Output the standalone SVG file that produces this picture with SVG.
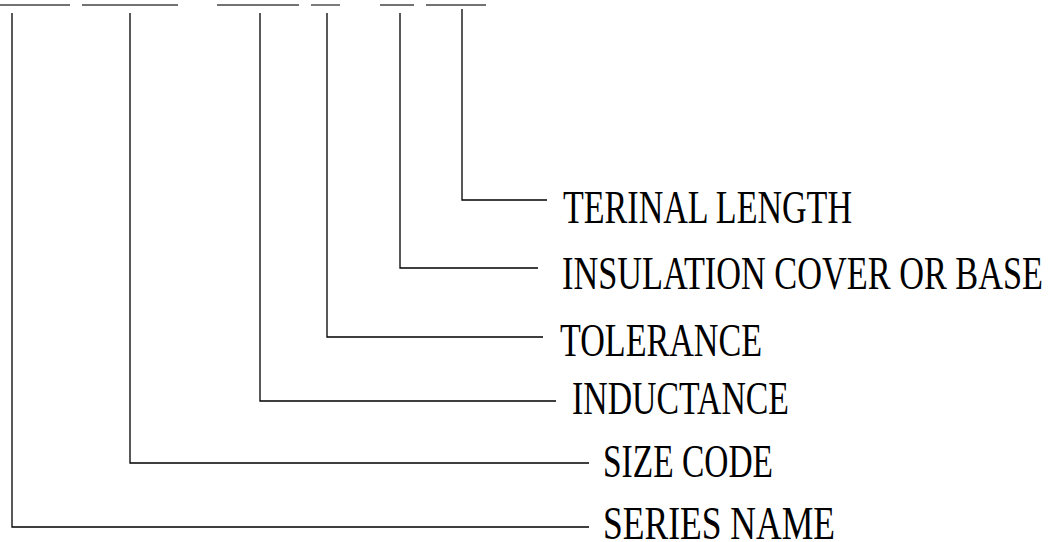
<svg xmlns="http://www.w3.org/2000/svg" width="1048" height="542" viewBox="0 0 1048 542">
  <style>
    .ln { fill: none; stroke: #000; stroke-width: 1.3; }
    .ul { fill: none; stroke: #444; stroke-width: 1.4; }
    .lbl { font-family: "Liberation Serif", "Times New Roman", serif; font-size: 46px; fill: #000; }
  </style>
  <rect width="1048" height="542" fill="#fff"/>
  <g id="code-fields">
    <line class="ul" x1="0" y1="5" x2="70" y2="5"/>
    <line class="ul" x1="82" y1="5" x2="178" y2="5"/>
    <line class="ul" x1="217" y1="5" x2="299" y2="5"/>
    <line class="ul" x1="311" y1="5" x2="340" y2="5"/>
    <line class="ul" x1="380" y1="5" x2="414" y2="5"/>
    <line class="ul" x1="426" y1="5" x2="486" y2="5"/>
  </g>
  <g id="connectors">
    <polyline class="ln" points="12,13 12,527 589,527"/>
    <polyline class="ln" points="130,13 130,463 589,463"/>
    <polyline class="ln" points="260,13 260,401 556,401"/>
    <polyline class="ln" points="327,13 327,337 543,337"/>
    <polyline class="ln" points="400,13 400,268 538,268"/>
    <polyline class="ln" points="462,9 462,200 547,200"/>
  </g>
  <g id="terinal-length"><text class="lbl" x="563" y="223" textLength="289" lengthAdjust="spacingAndGlyphs">TERINAL LENGTH</text></g>
  <g id="insulation"><text class="lbl" x="562" y="289" textLength="481" lengthAdjust="spacingAndGlyphs">INSULATION COVER OR BASE</text></g>
  <g id="tolerance"><text class="lbl" x="560" y="356" textLength="202" lengthAdjust="spacingAndGlyphs">TOLERANCE</text></g>
  <g id="inductance"><text class="lbl" x="572" y="414" textLength="217" lengthAdjust="spacingAndGlyphs">INDUCTANCE</text></g>
  <g id="size-code"><text class="lbl" x="603" y="477" textLength="170" lengthAdjust="spacingAndGlyphs">SIZE CODE</text></g>
  <g id="series-name"><text class="lbl" x="603" y="539" textLength="232" lengthAdjust="spacingAndGlyphs">SERIES NAME</text></g>
</svg>
